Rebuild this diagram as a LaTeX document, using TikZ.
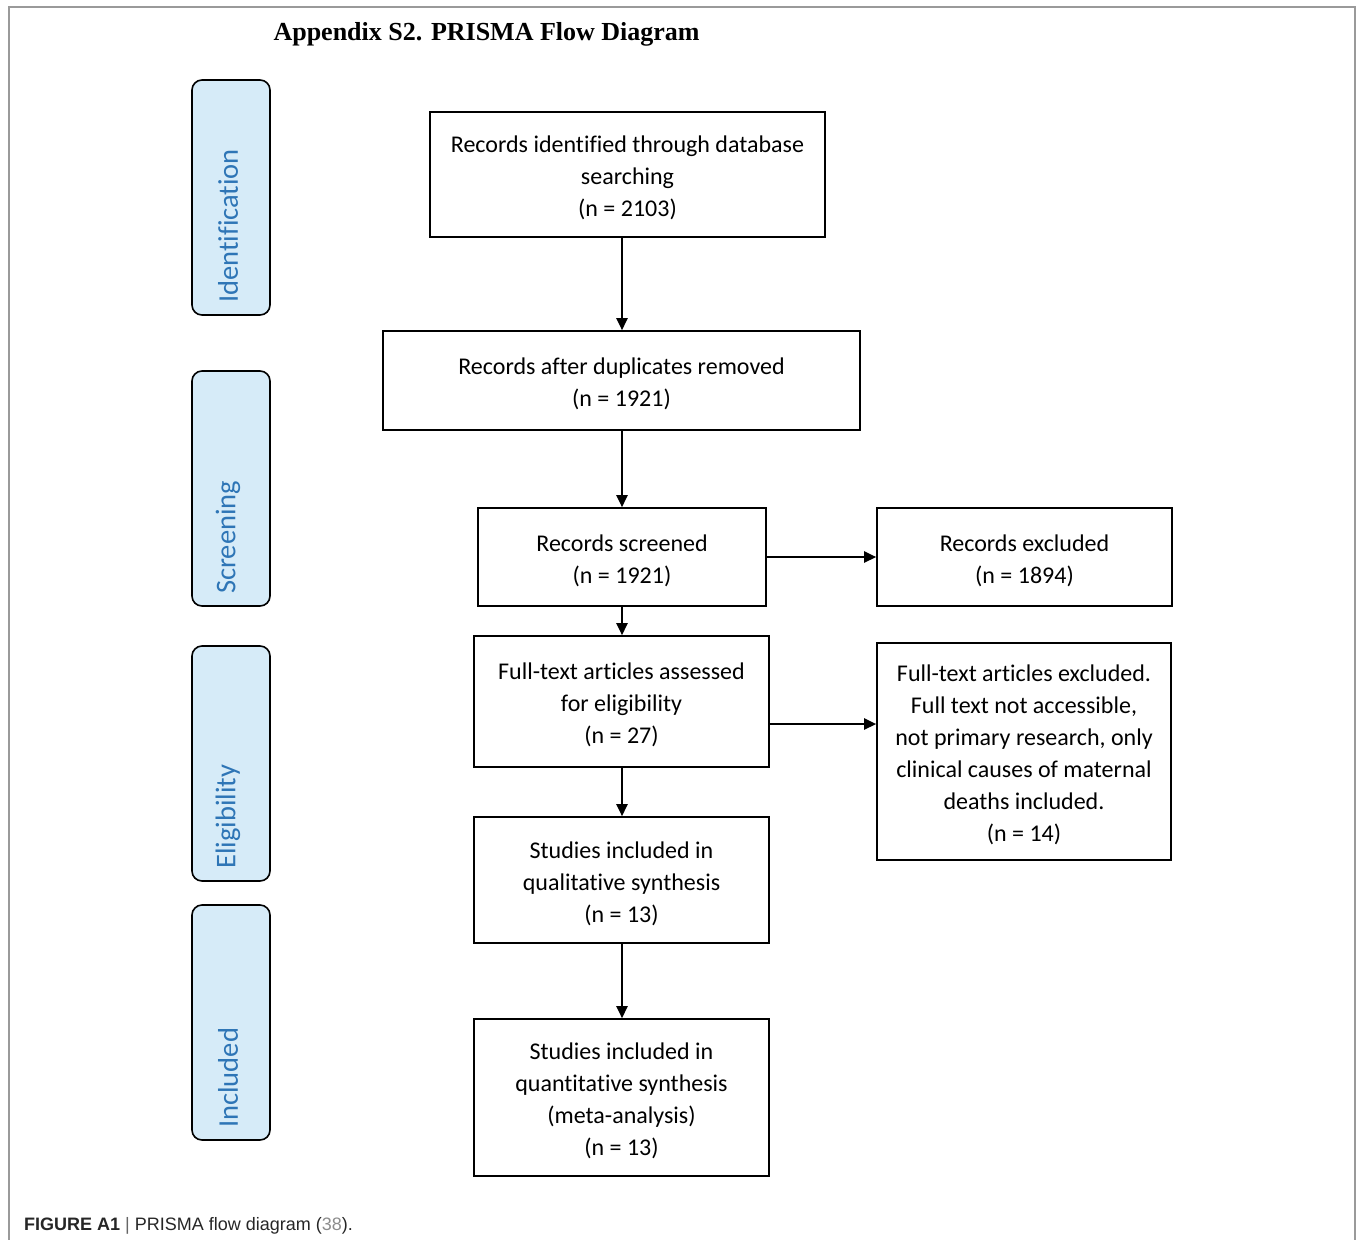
\documentclass[tikz,border=0pt]{standalone}
\usepackage{fontspec}
\setmainfont[Ligatures=NoCommon]{Carlito}
\newfontfamily\titlefont{Liberation Serif}
\newfontfamily\capfont{Liberation Sans}
\usetikzlibrary{arrows.meta}
\definecolor{sidefill}{HTML}{D6EBF8}
\definecolor{sidetext}{HTML}{2E75B6}
\definecolor{framegray}{HTML}{9A9A9A}
\tikzset{
  x=1pt, y=-1pt,
  boxtext/.style={align=center, inner sep=0pt, yshift=-3.5pt, font=\fontsize{24}{32}\selectfont},
  flowbox/.style={draw=black, line width=1.6pt, inner sep=0pt,
    label={[boxtext]center:{#1}}},
  sidebox/.style={draw=black, line width=1.6pt, fill=sidefill, rounded corners=10pt},
  sidelabel/.style={text=sidetext, font=\fontsize{28.5}{32}\selectfont, rotate=90, anchor=west, inner sep=0pt},
  flowarrow/.style={line width=2.4pt, -{Triangle[length=12pt,width=11pt]}}
}
\begin{document}
\begin{tikzpicture}
\useasboundingbox (0,0) rectangle (1358,1240);
\draw[framegray, line width=1.5pt] (9,1240) -- (9,7) -- (1355,7) -- (1355,1240);
\node[font=\titlefont\bfseries\fontsize{26}{30}\selectfont, anchor=west] (title) at (270,34) {Appendix S2. PRISMA Flow Diagram};

% side labels
\draw[sidebox] (192,80) rectangle (270,315);
\draw[sidebox] (192,371) rectangle (270,606);
\draw[sidebox] (192,646) rectangle (270,881);
\draw[sidebox] (192,905) rectangle (270,1140);
\node[sidelabel] (lid) at (228,303) {Identification};
\node[sidelabel] (lsc) at (228,594) {Screening};
\node[sidelabel] (lel) at (228,869) {Eligibility};
\node[sidelabel] (lin) at (228,1128) {Included};

% boxes
\node[flowbox={Records identified through database\\searching\\(n = 2103)}, minimum width=395pt, minimum height=125pt] (b1) at (627.5,174.5) {};
\node[flowbox={Records after duplicates removed\\(n = 1921)}, minimum width=477pt, minimum height=99pt] (b2) at (621.5,380.5) {};
\node[flowbox={Records screened\\(n = 1921)}, minimum width=288pt, minimum height=98pt] (b3) at (622,557) {};
\node[flowbox={Records excluded\\(n = 1894)}, minimum width=295pt, minimum height=98pt] (b4) at (1024.5,557) {};
\node[flowbox={Full-text articles assessed\\for eligibility\\(n = 27)}, minimum width=295pt, minimum height=131pt] (b5) at (621.5,701.5) {};
\node[flowbox={Full-text articles excluded.\\Full text not accessible,\\not primary research, only\\clinical causes of maternal\\deaths included.\\(n = 14)}, minimum width=294pt, minimum height=217pt] (b6) at (1024,751.5) {};
\node[flowbox={Studies included in\\qualitative synthesis\\(n = 13)}, minimum width=295pt, minimum height=126pt] (b7) at (621.5,880) {};
\node[flowbox={Studies included in\\quantitative synthesis\\(meta-analysis)\\(n = 13)}, minimum width=295pt, minimum height=157pt] (b8) at (621.5,1097.5) {};

% arrows
\draw[flowarrow] (b1.south -| b3.center) -- (b2.north -| b3.center);
\draw[flowarrow] (b2.south -| b3.center) -- (b3.north);
\draw[flowarrow] (b3.south) -- (b5.north -| b3.center);
\draw[flowarrow] (b5.south -| b3.center) -- (b7.north -| b3.center);
\draw[flowarrow] (b7.south -| b3.center) -- (b8.north -| b3.center);
\draw[flowarrow] (b3.east) -- (b4.west);
\draw[flowarrow] ([yshift=-22.5pt]b5.east) -- ([yshift=-22.5pt]b5.east -| b6.west);

% caption
\node[anchor=west, inner sep=0pt, font=\capfont\fontsize{18}{22}\selectfont, text=black!85] (cap) at (24,1226) {\textbf{FIGURE A1} {\color{black!60}|} PRISMA flow diagram ({\color{black!45}38}).};
\end{tikzpicture}
\end{document}
